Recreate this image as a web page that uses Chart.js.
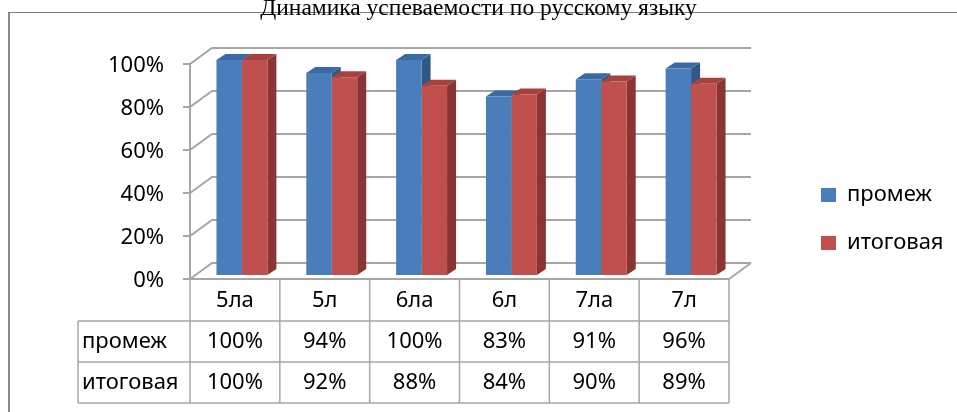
<!DOCTYPE html>
<html>
<head>
<meta charset="utf-8">
<script src="https://cdn.jsdelivr.net/npm/chart.js@4"></script>
<style>
  html, body { margin: 0; padding: 0; background: #fff; overflow: hidden; }
  body { width: 957px; height: 412px; position: relative; }
  #frame { position: absolute; left: 8px; top: 12px; width: 1000px; height: 500px;
           border-left: 2px solid #8c8c8c; border-top: 1px solid #7f7f7f; }
  #wrap { position: absolute; left: 0; top: -12px; width: 957px; height: 424px; }
</style>
</head>
<body>
<div id="frame"></div>
<div id="wrap"><canvas id="c" width="957" height="424"></canvas></div>
<script>
// данные
var classes = ['5ла', '5л', '6ла', '6л', '7ла', '7л'];
var promezh = [1.00, 0.94, 1.00, 0.83, 0.91, 0.96];
var itog = [1.00, 0.92, 0.88, 0.84, 0.90, 0.89];
var seriesNames = ['промеж', 'итоговая'];

var OFF = 12;                       // canvas is shifted up by this much
var FRONT = {dx: -7, dy: 4};        // front plane relative to the bars
var BACK = {dx: 15, dy: -12};       // back wall relative to the bars
var DEPTH = {dx: 9, dy: 6};         // depth of one bar
var sideColors = ['#2d5889', '#8a3533'];
var topColors = ['#3b69a4', '#a8423f'];
var lineColor = '#a6a6a6';
var font = 'Noto Sans';

function pct(v) { return Math.round(v * 100) + '%'; }

var pseudo3d = {
    id: 'pseudo3d',
    afterLayout: function (chart) {
        // legend sits to the right, centred on the plot
        var lg = chart.legend;
        var h = lg.bottom - lg.top, w = lg.right - lg.left;
        lg.top = 219 + OFF - h / 2;
        lg.bottom = lg.top + h;
        lg.left = 821 - lg.options.labels.padding;
        lg.right = lg.left + w;
    },
    beforeDatasetsDraw: function (chart) {
        var ctx = chart.ctx, ys = chart.scales.y, ca = chart.chartArea;
        var fl = ca.left + FRONT.dx, fr = ca.right + FRONT.dx;
        var bl = ca.left + BACK.dx, br = ca.right + BACK.dx;
        ctx.save();
        ctx.strokeStyle = lineColor;
        ctx.lineWidth = 2;
        ys.ticks.forEach(function (t) {
            var py = ys.getPixelForValue(t.value);
            ctx.beginPath();
            ctx.moveTo(fl - 7, py + FRONT.dy);
            ctx.lineTo(fl, py + FRONT.dy);
            ctx.lineTo(bl, py + BACK.dy);
            ctx.lineTo(br, py + BACK.dy);
            ctx.stroke();
        });
        var y0 = ys.getPixelForValue(0), y1 = ys.getPixelForValue(1);
        ctx.beginPath();
        ctx.moveTo(fl, y1 + FRONT.dy);
        ctx.lineTo(fl, y0 + FRONT.dy);
        ctx.lineTo(fr, y0 + FRONT.dy);
        ctx.lineTo(br, y0 + BACK.dy);
        ctx.stroke();

        // tops and sides of the bars, fronts come from Chart.js
        chart.data.datasets.forEach(function (ds, i) {
            chart.getDatasetMeta(i).data.forEach(function (bar) {
                var p = bar.getProps(['x', 'y', 'base', 'width'], true);
                var l = p.x - p.width / 2, r = p.x + p.width / 2;
                ctx.fillStyle = sideColors[i];
                ctx.beginPath();
                ctx.moveTo(r, p.y);
                ctx.lineTo(r + DEPTH.dx, p.y - DEPTH.dy);
                ctx.lineTo(r + DEPTH.dx, p.base - DEPTH.dy);
                ctx.lineTo(r, p.base);
                ctx.closePath();
                ctx.fill();
                ctx.fillStyle = topColors[i];
                ctx.beginPath();
                ctx.moveTo(l, p.y);
                ctx.lineTo(l + DEPTH.dx, p.y - DEPTH.dy);
                ctx.lineTo(r + DEPTH.dx, p.y - DEPTH.dy);
                ctx.lineTo(r, p.y);
                ctx.closePath();
                ctx.fill();
            });
        });
        ctx.restore();
    },
    afterDraw: function (chart) {
        // data table under the plot
        var ctx = chart.ctx, xs = chart.scales.x, ys = chart.scales.y, ca = chart.chartArea;
        var fl = ca.left + FRONT.dx, fr = ca.right + FRONT.dx;
        var step = xs.getPixelForValue(1) - xs.getPixelForValue(0);
        var top = ys.getPixelForValue(0) + FRONT.dy;
        var rows = [top, top + 42, top + 83, top + 124];
        var labelLeft = 78;
        ctx.save();
        ctx.strokeStyle = lineColor;
        ctx.lineWidth = 1.5;
        ctx.beginPath();
        for (var r = 1; r < rows.length; r++) {
            ctx.moveTo(labelLeft, rows[r]);
            ctx.lineTo(fr, rows[r]);
        }
        ctx.moveTo(labelLeft, rows[1]);
        ctx.lineTo(labelLeft, rows[3]);
        for (var c = 0; c <= classes.length; c++) {
            var bx = fl + c * step;
            ctx.moveTo(bx, top);
            ctx.lineTo(bx, rows[3]);
        }
        ctx.stroke();

        ctx.fillStyle = '#000';
        ctx.font = '22px "' + font + '"';
        ctx.textBaseline = 'middle';
        ctx.textAlign = 'center';
        var sets = [promezh, itog];
        classes.forEach(function (name, i) {
            var cx = xs.getPixelForValue(i) + FRONT.dx;
            ctx.fillText(name, cx, (rows[0] + rows[1]) / 2 + 1);
            sets.forEach(function (vals, k) {
                ctx.fillText(pct(vals[i]), cx, (rows[k + 1] + rows[k + 2]) / 2);
            });
        });
        ctx.textAlign = 'left';
        seriesNames.forEach(function (n, k) {
            ctx.fillText(n, labelLeft + 4, (rows[k + 1] + rows[k + 2]) / 2);
        });
        ctx.restore();
    }
};

var ctx = document.getElementById('c').getContext('2d');
var chart = new Chart(ctx, {
    type: 'bar',
    data: {
        labels: classes,
        datasets: [
            {label: seriesNames[0], data: promezh, backgroundColor: '#4a7ebb'},
            {label: seriesNames[1], data: itog, backgroundColor: '#c0504d'}
        ]
    },
    options: {
        responsive: false,
        animation: false,
        devicePixelRatio: 1,
        layout: {padding: {left: 0, right: 0, top: 0, bottom: 137}},
        datasets: {bar: {categoryPercentage: 0.567, barPercentage: 1}},
        scales: {
            x: {display: false},
            y: {
                min: 0, max: 1,
                grid: {display: false, drawTicks: false},
                border: {display: false},
                ticks: {
                    stepSize: 0.2,
                    padding: 33,
                    labelOffset: 6,
                    color: '#000',
                    font: {family: font, size: 22},
                    callback: function (v) { return pct(v); }
                },
                afterFit: function (s) { s.width = 197; }
            },
            y2: {
                type: 'linear',
                position: 'right',
                grid: {display: false, drawTicks: false},
                border: {display: false},
                ticks: {display: false},
                afterFit: function (s) {
                    s.width = Math.max(0, 957 - s.chart.legend.width - 736);
                }
            }
        },
        plugins: {
            title: {
                display: true,
                text: 'Динамика успеваемости по русскому языку',
                color: '#000',
                font: {family: 'Liberation Serif', size: 23.5, weight: 'normal'},
                padding: {top: 7, bottom: 36.8}
            },
            legend: {
                position: 'right',
                labels: {
                    boxWidth: 15,
                    boxHeight: 14,
                    padding: 26,
                    color: '#000',
                    font: {family: font, size: 22}
                }
            },
            tooltip: {enabled: false}
        }
    },
    plugins: [pseudo3d]
});
</script>
</body>
</html>
